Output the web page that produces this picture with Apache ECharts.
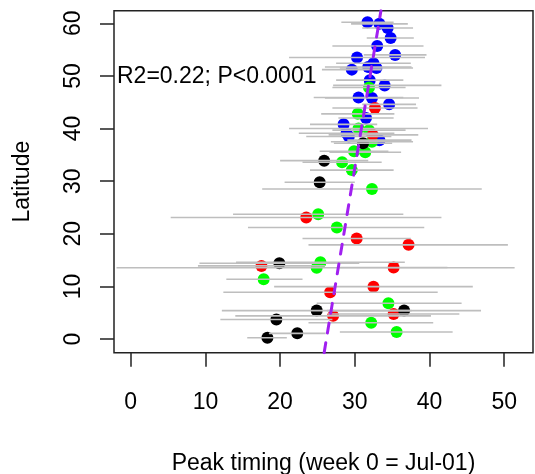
<!DOCTYPE html>
<html><head><meta charset="utf-8">
<script src="https://cdn.jsdelivr.net/npm/echarts@6/dist/echarts.min.js"></script>
<style>html,body{margin:0;padding:0;background:#fff}#c{width:535px;height:474px}</style>
</head><body><div id="c"></div>
<script>
// Tick labels
const xTicks = [0, 10, 20, 30, 40, 50];
const yTicks = [0, 10, 20, 30, 40, 50, 60];
// Each entry: [peak timing, latitude, interval low, interval high]
const blue = [
  [31.7,60.2,28.2,35.2],[33.3,59.9,29.5,37.1],[34.4,59.1,31.0,37.8],[34.8,57.2,31.6,37.9],
  [33.0,55.7,27.0,39.2],[35.4,54.0,31.2,39.6],[30.3,53.5,21.2,39.4],[32.5,52.4,27.5,37.5],
  [31.8,51.7,26.0,37.6],[29.6,51.2,25.6,33.6],[32.9,51.5,28.0,37.8],[32.0,49.2,27.5,36.5],
  [34.0,48.2,27.1,41.6],[30.5,45.9,24.5,36.5],[32.3,45.8,26.0,38.6],[34.6,44.6,31.0,38.2],
  [31.5,42.0,27.8,35.2],[28.5,40.8,24.0,33.0],[28.9,39.1,22.5,35.3],[29.2,38.5,23.5,34.9],
  [33.3,37.8,29.0,37.6]
];
const green = [
  [31.9,47.8,27.0,36.8],[30.4,42.8,25.5,35.3],[30.5,40.0,21.2,39.8],[31.9,39.7,27.0,36.8],
  [32.3,37.5,26.8,37.8],[29.9,35.7,25.3,34.5],[31.4,35.5,26.6,36.2],[28.3,33.6,23.0,33.6],
  [29.6,32.1,24.0,35.2],[32.3,28.5,17.6,47.0],[25.1,23.7,13.7,36.5],[27.6,21.2,15.7,39.3],
  [25.4,14.6,14.1,36.7],[24.9,13.55,-1.9,51.4],[17.8,11.35,12.8,23.0],[34.5,6.8,24.9,44.3],
  [32.2,3.1,23.8,40.5],[35.6,1.33,28.0,43.1]
];
const red = [
  [32.7,43.9,27.0,38.4],[32.4,38.8,26.5,38.5],[23.5,23.1,5.35,41.6],[30.25,19.1,23.0,37.5],
  [37.2,17.9,23.8,50.5],[17.5,13.9,9.0,26.0],[35.2,13.6,28.0,42.4],[32.5,9.95,19.2,45.8],
  [26.7,8.9,12.4,41.1],[35.2,4.75,26.4,44.0],[27.1,4.4,14.0,40.2]
];
const black = [
  [31.1,37.2,27.2,35.0],[25.9,33.9,20.0,31.8],[25.3,29.8,20.6,30.0],[19.9,14.4,9.2,30.6],
  [24.9,5.4,12.2,37.6],[36.6,5.4,26.3,46.9],[19.5,3.7,12.0,27.0],[22.3,1.08,18.5,26.1],
  [18.3,0.25,15.6,20.9]
];
// Regression: timing = intercept + slope * latitude
const fitIntercept = 26.2;
const fitSlope = 0.117;
const annotation = 'R2=0.22; P<0.0001';

const X_MIN = -2.24, X_MAX = 53.86, Y_MIN = -2.6, Y_MAX = 62.4;
const FONT = "'Liberation Sans', Arial, sans-serif";

const groups = [
  {data: blue, color: '#0000FF'},
  {data: green, color: '#00FF00'},
  {data: red, color: '#FF0000'},
  {data: black, color: '#000000'}
];
const allBars = [].concat(blue, green, red, black);
const fitLine = [Y_MIN, Y_MAX].map(y => [fitIntercept + fitSlope * y, y]);

const chart = echarts.init(document.getElementById('c'), null, {renderer: 'canvas'});
const series = groups.map((g, i) => ({
  type: 'scatter', data: g.data.map(d => [d[0], d[1]]), symbol: 'circle', symbolSize: 12,
  itemStyle: {color: g.color, opacity: 1}, z: 2 + i, silent: true
}));
series.push({
  type: 'custom', data: allBars, encode: {x: [0, 2, 3], y: 1}, z: 10, silent: true,
  renderItem: (params, api) => {
    const a = api.coord([api.value(2), api.value(1)]);
    const b = api.coord([api.value(3), api.value(1)]);
    return {type: 'line', shape: {x1: a[0], y1: a[1], x2: b[0], y2: b[1]},
      style: {stroke: '#bebebe', lineWidth: 1.6}};
  }
});
series.push({
  type: 'line', data: fitLine, symbol: 'none', z: 20, silent: true,
  lineStyle: {color: '#A020F0', width: 3, type: [10, 10], cap: 'round'}
});

chart.setOption({
  animation: false,
  backgroundColor: '#fff',
  textStyle: {fontFamily: FONT},
  grid: {left: 114, right: 2, top: 10.7, bottom: 121.3, show: true, borderColor: '#222', borderWidth: 1.5,
    backgroundColor: 'transparent', containLabel: false, outerBoundsMode: 'none'},
  xAxis: {
    type: 'value', min: X_MIN, max: X_MAX,
    name: 'Peak timing (week 0 = Jul-01)', nameLocation: 'middle', nameGap: 99,
    nameTextStyle: {fontSize: 23, color: '#000', fontFamily: FONT, lineHeight: 23},
    axisLine: {show: false, onZero: false}, splitLine: {show: false},
    axisTick: {show: true, inside: false, customValues: xTicks, length: 14, lineStyle: {color: '#222', width: 1.5}},
    axisLabel: {customValues: xTicks, fontSize: 23, color: '#000', margin: 38, lineHeight: 23, fontFamily: FONT}
  },
  yAxis: {
    type: 'value', min: Y_MIN, max: Y_MAX,
    name: 'Latitude', nameLocation: 'middle', nameGap: 80, nameRotate: 90,
    nameTextStyle: {fontSize: 23, color: '#000', fontFamily: FONT, lineHeight: 23},
    axisLine: {show: false, onZero: false}, splitLine: {show: false},
    axisTick: {show: true, inside: false, customValues: yTicks, length: 14, lineStyle: {color: '#222', width: 1.5}},
    axisLabel: {customValues: yTicks, rotate: 90, fontSize: 23, color: '#000', margin: 29, lineHeight: 23, fontFamily: FONT}
  },
  graphic: [{
    type: 'text', left: 117, top: 65, z: 30,
    style: {text: annotation, fontSize: 23, fill: '#000', fontFamily: FONT}
  }],
  series: series
});
</script></body></html>
